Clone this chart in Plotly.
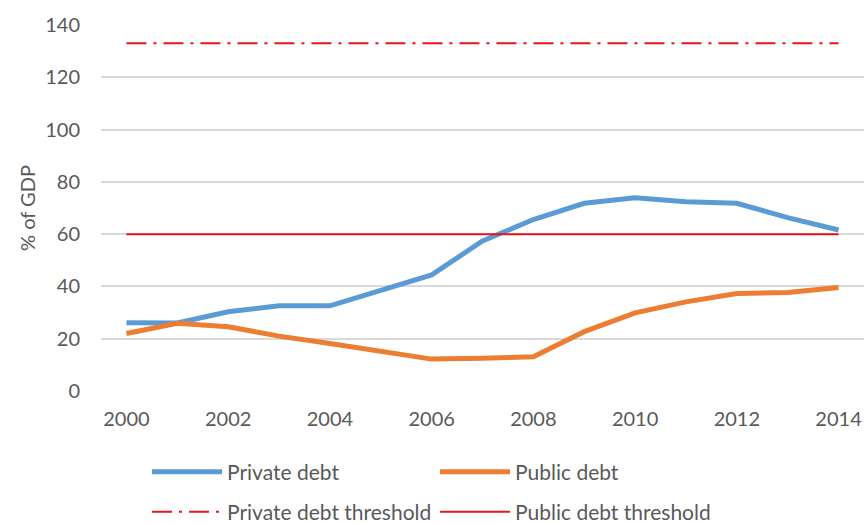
import plotly.graph_objects as go

years = list(range(2000, 2015))
private_debt = [26.1, 26.0, 30.3, 32.6, 32.6, 38.6, 44.4, 57.4, 65.6, 71.8, 73.9, 72.4, 71.8, 66.3, 61.6]
public_debt = [22.0, 25.9, 24.6, 21.0, 18.2, 15.4, 12.2, 12.5, 13.1, 22.7, 29.9, 34.1, 37.3, 37.7, 39.6]
private_threshold = [133] * len(years)
public_threshold = [60] * len(years)
tick_years = list(range(2000, 2015, 2))
y_ticks = [0, 20, 40, 60, 80, 100, 120, 140]

FONT = "Lato"
GRAY = "#595959"
RED = "#E8131B"

fig = go.Figure()
fig.add_trace(go.Scatter(x=years, y=private_debt, name="Private debt", mode="lines",
                         line=dict(color="#5B9BD5", width=5), legend="legend"))
fig.add_trace(go.Scatter(x=years, y=public_debt, name="Public debt", mode="lines",
                         line=dict(color="#ED7D31", width=5), legend="legend"))
fig.add_trace(go.Scatter(x=years, y=private_threshold, name="Private debt threshold", mode="lines",
                         line=dict(color=RED, width=2, dash="20px,7px,3px,7px"), legend="legend2"))
fig.add_trace(go.Scatter(x=years, y=public_threshold, name="Public debt threshold", mode="lines",
                         line=dict(color=RED, width=2), legend="legend2"))

legend_common = dict(orientation="h", xanchor="left", yanchor="middle",
                     xref="container", yref="container",
                     font=dict(family=FONT, size=21, color=GRAY),
                     entrywidth=203, entrywidthmode="pixels", itemwidth=70,
                     bgcolor="rgba(0,0,0,0)", tracegroupgap=0)

fig.update_layout(
    width=866, height=523,
    margin=dict(l=101, r=2, t=25, b=132, autoexpand=False),
    paper_bgcolor="white", plot_bgcolor="white",
    font=dict(family=FONT, size=20, color=GRAY),
    showlegend=True,
    legend=dict(x=147 / 866, y=1 - 472 / 523, **legend_common),
    legend2=dict(x=147 / 866, y=1 - 512 / 523, **legend_common),
    xaxis=dict(range=[1999.5, 2014.5], tickmode="array", tickvals=tick_years,
               ticktext=[str(v) for v in tick_years], automargin=False,
               showgrid=False, zeroline=False, showline=False,
               ticks="outside", ticklen=10, tickcolor="rgba(0,0,0,0)",
               tickfont=dict(family=FONT, size=20, color=GRAY)),
    yaxis=dict(range=[0, 140], tickvals=y_ticks, automargin=False,
               showgrid=True, gridcolor="#D9D9D9", gridwidth=1.5,
               zeroline=False, showline=False,
               ticks="outside", ticklen=16, tickcolor="rgba(0,0,0,0)",
               tickfont=dict(family=FONT, size=20, color=GRAY),
               title=dict(text="% of GDP", font=dict(family=FONT, size=20, color=GRAY), standoff=4)),
)

fig.write_html("out.html", config={"displayModeBar": False},
               post_script="document.body.style.margin='0';document.body.style.padding='0';")
